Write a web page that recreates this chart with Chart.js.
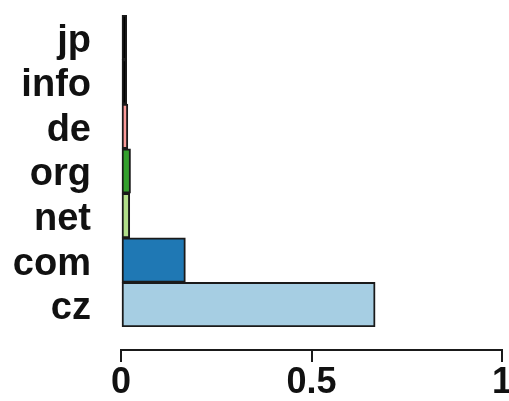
<!DOCTYPE html>
<html>
<head>
<meta charset="utf-8">
<script src="https://cdn.jsdelivr.net/npm/chart.js@4/dist/chart.umd.min.js"></script>
<style>
  html, body { margin: 0; padding: 0; background: #fff; }
  #wrap { width: 509px; height: 401px; }
</style>
</head>
<body>
<div id="wrap"><canvas id="barChart" width="509" height="401"></canvas></div>
<script>
// Kategorien von oben nach unten
const domains = ["jp", "info", "de", "org", "net", "com", "cz"];
// Anteile
const shares = [0.015, 0.015, 0.018, 0.025, 0.023, 0.169, 0.667];
const barColors = ["#000000", "#000000", "#fb9a99", "#33a02c", "#b2df8a", "#1f78b4", "#a6cee3"];
// Achsenbeschriftung
const xTicks = [0, 0.5, 1];

const ctx = document.getElementById("barChart").getContext("2d");

new Chart(ctx, {
  type: "bar",
  data: {
    labels: domains,
    datasets: [{
      data: shares,
      backgroundColor: barColors,
      borderColor: "#1a1a1a",
      borderWidth: 2,
      borderSkipped: false,
      barPercentage: 1,
      categoryPercentage: 1
    }]
  },
  options: {
    indexAxis: "y",
    responsive: false,
    animation: false,
    layout: { padding: { left: 0, right: 7, top: 15, bottom: 74 } },
    plugins: { legend: { display: false }, tooltip: { enabled: false } },
    scales: {
      x: {
        type: "linear",
        min: 0,
        max: 1,
        position: { y: 7.02 },
        afterBuildTicks: function (scale) {
          scale.ticks = xTicks.map(v => ({ value: v }));
        },
        afterFit: function (scale) {
          scale.paddingLeft = 0;
          scale.paddingRight = 0;
        },
        grid: {
          display: true,
          drawOnChartArea: false,
          drawTicks: true,
          tickLength: 11,
          color: "#1a1a1a",
          lineWidth: 2
        },
        border: { display: true, color: "#1a1a1a", width: 2 },
        ticks: {
          padding: 0,
          maxRotation: 0,
          autoSkip: false,
          color: "#111",
          callback: function (value) { return String(value); },
          font: { family: "'Liberation Sans', Arial, sans-serif", size: 36, weight: "bold" }
        }
      },
      y: {
        afterFit: function (scale) {
          scale.width = 121;
          scale.paddingTop = 0;
          scale.paddingBottom = 0;
        },
        grid: { display: false, drawTicks: false },
        border: { display: false },
        ticks: {
          padding: 30,
          labelOffset: 4,
          autoSkip: false,
          color: "#111",
          font: { family: "'Liberation Sans', Arial, sans-serif", size: 38, weight: "bold" }
        }
      }
    }
  }
});
</script>
</body>
</html>
